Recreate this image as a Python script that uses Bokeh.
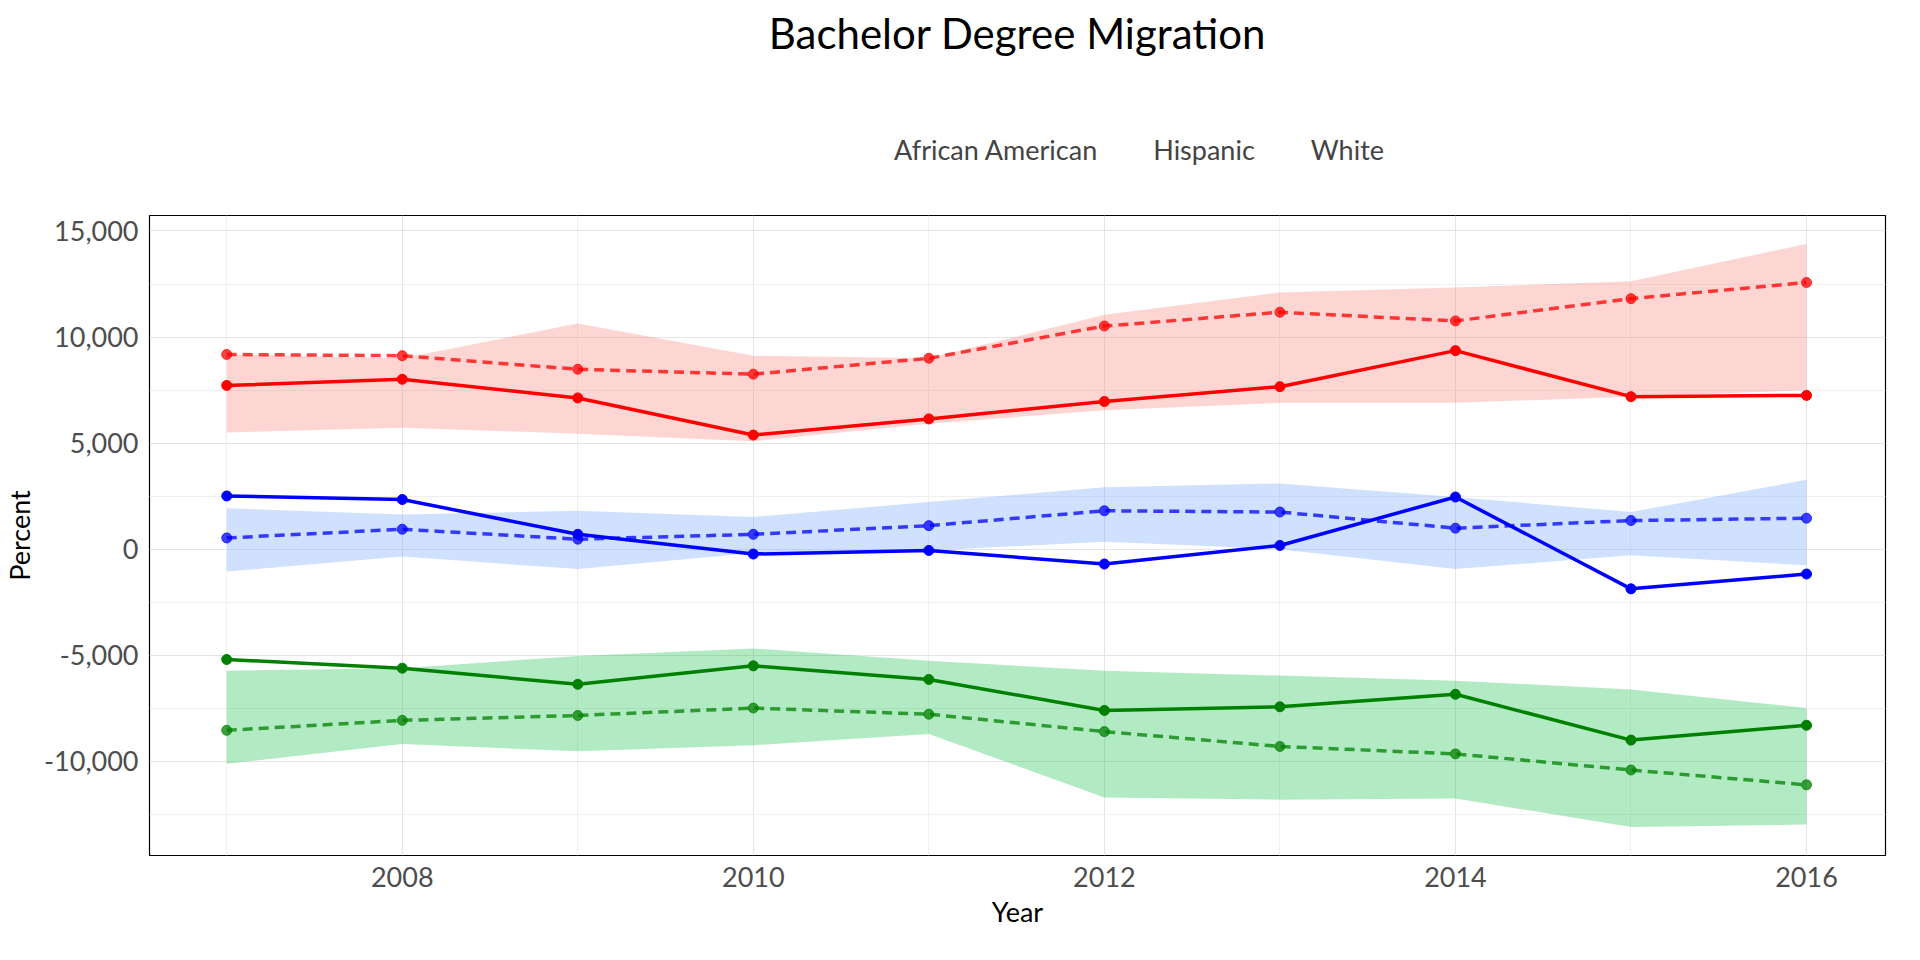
from bokeh.plotting import figure
from bokeh.layouts import column
from bokeh.models import Legend, LegendItem, FixedTicker, NumeralTickFormatter
from bokeh.embed import file_html
from bokeh.resources import INLINE

years = [2007, 2008, 2009, 2010, 2011, 2012, 2013, 2014, 2015, 2016]

aa_actual = [7720, 8010, 7130, 5380, 6140, 6960, 7660, 9360, 7190, 7250]
aa_pred = [9180, 9120, 8480, 8250, 9000, 10520, 11170, 10760, 11810, 12570]
aa_hi = [9180, 9000, 10640, 9120, 9000, 11050, 12100, 12340, 12630, 14390]
aa_lo = [5500, 5730, 5440, 5090, 5910, 6550, 6900, 6900, 7190, 7490]

wh_actual = [2510, 2340, 700, -230, -60, -700, 175, 2460, -1870, -1170]
wh_pred = [530, 940, 470, 700, 1110, 1810, 1750, 990, 1350, 1460]
wh_hi = [1930, 1640, 1810, 1520, 2220, 2920, 3100, 2460, 1750, 3270]
wh_lo = [-1050, -350, -940, -175, -60, 350, 0, -940, -290, -760]

hi_actual = [-5200, -5610, -6370, -5500, -6140, -7600, -7430, -6840, -9000, -8300]
hi_pred = [-8540, -8070, -7840, -7490, -7780, -8600, -9300, -9650, -10410, -11110]
hi_hi = [-5730, -5610, -5030, -4680, -5260, -5730, -5960, -6200, -6610, -7490]
hi_lo = [-10120, -9180, -9530, -9240, -8710, -11700, -11810, -11750, -13100, -12980]

names = ["African American", "Hispanic", "White"]
band_colors = ["#F8766D", "#00BA38", "#619CFF"]

FONT = "Lato"

# header: title + legend
h = figure(width=1900, height=195, output_backend="svg", toolbar_location=None,
           x_range=(0, 1), y_range=(0, 1), title="Bachelor Degree Migration")
h.title.align = "center"
h.title.text_font = FONT
h.title.text_font_size = "42px"
h.title.text_font_style = "normal"
h.title.text_color = "black"
h.axis.visible = False
h.grid.visible = False
h.outline_line_color = None
items = []
for name, c in zip(names, band_colors):
    r = h.varea(x=[], y1=[], y2=[], fill_color=c, fill_alpha=0.3)
    items.append(LegendItem(label=name, renderers=[r]))
leg = Legend(items=items, orientation="horizontal", location=(695, 20))
leg.label_text_font = FONT
leg.label_text_font_size = "27px"
leg.glyph_width = 42
leg.glyph_height = 42
leg.border_line_color = None
leg.background_fill_alpha = 0
leg.spacing = 6
leg.label_standoff = 8
h.add_layout(leg)

p = figure(width=1900, height=735, output_backend="svg", toolbar_location=None,
           x_range=(2006.56, 2016.45), y_range=(-14440, 15730),
           x_axis_label="Year", y_axis_label="Percent")
p.min_border_left = 20
p.min_border_right = 15
p.min_border_top = 20
p.outline_line_color = "black"
p.outline_line_width = 1.2

for lo, hi, c in [(aa_lo, aa_hi, band_colors[0]), (hi_lo, hi_hi, band_colors[1]),
                  (wh_lo, wh_hi, band_colors[2])]:
    p.varea(x=years, y1=lo, y2=hi, fill_color=c, fill_alpha=0.3)

for act, pred, line in [(aa_actual, aa_pred, "red"), (wh_actual, wh_pred, "blue"),
                        (hi_actual, hi_pred, "green")]:
    p.line(years, pred, line_color=line, line_width=3.5, line_dash="10 6", line_alpha=0.75)
    p.scatter(years, pred, color=line, size=10, alpha=0.75)
    p.line(years, act, line_color=line, line_width=3.5)
    p.scatter(years, act, color=line, size=10)

p.xaxis.ticker = FixedTicker(ticks=[2008, 2010, 2012, 2014, 2016],
                             minor_ticks=[2007, 2009, 2011, 2013, 2015])
p.yaxis.ticker = FixedTicker(ticks=[-10000, -5000, 0, 5000, 10000, 15000],
                             minor_ticks=[-12500, -7500, -2500, 2500, 7500, 12500])
p.yaxis.formatter = NumeralTickFormatter(format="0,0")
for ax in (p.xaxis[0], p.yaxis[0]):
    ax.axis_line_color = None
    ax.major_tick_line_color = None
    ax.minor_tick_line_color = None
    ax.major_label_text_font = FONT
    ax.major_label_text_font_size = "27px"
    ax.major_label_text_color = "#4d4d4d"
    ax.axis_label_text_font = FONT
    ax.axis_label_text_font_size = "27px"
    ax.axis_label_text_font_style = "normal"
    ax.axis_label_text_color = "black"
p.grid.grid_line_color = "#e5e5e5"
p.grid.minor_grid_line_color = "#f0f0f0"

open("out.html", "w").write(file_html(column(h, p, spacing=0), INLINE))
